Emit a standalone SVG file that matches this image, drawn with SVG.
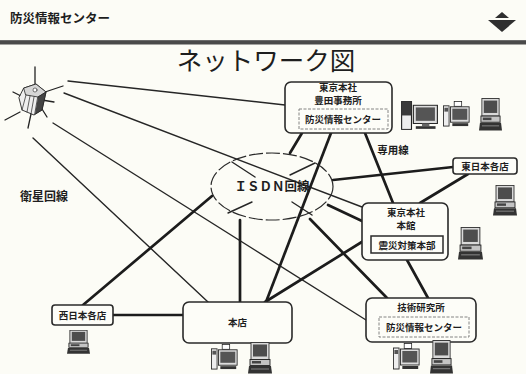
<svg xmlns="http://www.w3.org/2000/svg" width="526" height="374" viewBox="0 0 526 374">
  <defs>
    <style>
      .jp { font-family: "Noto Sans CJK JP", "Noto Sans CJK SC", sans-serif; fill: #1e1e1e; }
      .lbl { font-size: 9.5px; font-weight: bold; text-anchor: middle; }
      .box { fill: #fdfdf8; stroke: #2a2a2a; stroke-width: 1.6; }
      .inner-dash { fill: none; stroke: #777; stroke-width: 0.9; stroke-dasharray: 3 1.5; }
      .inner-solid { fill: none; stroke: #2a2a2a; stroke-width: 1.5; }
      .thick { stroke: #1c1c1c; stroke-width: 2.7; stroke-linecap: round; fill: none; }
      .thin { stroke: #262626; stroke-width: 1.4; stroke-linecap: round; fill: none; }
    </style>
    <!-- desktop PC with keyboard -->
    <symbol id="pc" viewBox="0 0 24 32" preserveAspectRatio="none">
      <rect x="3" y="0.5" width="18" height="17" fill="#d9d9d9" stroke="#333" stroke-width="0.9"/>
      <rect x="5" y="2.5" width="14" height="12" fill="#4d4d4d"/>
      <rect x="2" y="17.5" width="20" height="6" fill="#c4c4c4" stroke="#222" stroke-width="0.9"/>
      <rect x="4" y="19" width="9" height="2.5" fill="#444"/>
      <polygon points="1,24 23,24 24,31.5 0,31.5" fill="#333"/>
      <line x1="3" y1="27" x2="21" y2="27" stroke="#999" stroke-width="0.8"/>
    </symbol>
    <!-- tower and monitor -->
    <symbol id="tower" viewBox="0 0 30 28" preserveAspectRatio="none">
      <rect x="0.5" y="0.5" width="8" height="26" fill="#eee" stroke="#222" stroke-width="0.9"/>
      <rect x="0.5" y="0.5" width="8" height="13" fill="#3a3a3a"/>
      <rect x="10" y="4" width="19.5" height="17" fill="#ddd" stroke="#222" stroke-width="0.9"/>
      <rect x="12" y="6" width="15.5" height="12.5" fill="#555"/>
      <rect x="17" y="21" width="6" height="2.5" fill="#666"/>
      <rect x="12" y="23.5" width="16" height="2.5" fill="#333"/>
    </symbol>
    <!-- slim tower with small box and monitor -->
    <symbol id="tower2" viewBox="0 0 30 28" preserveAspectRatio="none">
      <rect x="0.5" y="5" width="6" height="21" fill="#eee" stroke="#222" stroke-width="0.9"/>
      <rect x="1.5" y="7" width="4" height="4" fill="#555"/>
      <rect x="12" y="0.5" width="8" height="5" fill="#fff" stroke="#222" stroke-width="0.8"/>
      <rect x="8" y="6" width="20" height="16" fill="#ddd" stroke="#222" stroke-width="0.9"/>
      <rect x="10" y="8" width="16" height="11.5" fill="#555"/>
      <rect x="10" y="23" width="17" height="3" fill="#333"/>
    </symbol>
  </defs>

  <rect width="526" height="374" fill="#fcfcf6"/>

  <!-- page header -->
  <g id="header">
    <text class="jp" x="10" y="23" font-size="12.5" font-weight="bold">防災情報センター</text>
    <polygon points="502,12 495,18 509,18" fill="#2f2f2f"/>
    <polygon points="488,20 516,20 502,32" fill="#2f2f2f"/>
    <rect x="0" y="40" width="526" height="4.5" fill="#4a4a4a"/>
    <rect x="0" y="40" width="526" height="1" fill="#6a6a6a"/>
  </g>

  <text id="title" class="jp" x="266" y="70" font-size="25.5" text-anchor="middle">ネットワーク図</text>

  <!-- connectors -->
  <g id="connectors">
    <!-- satellite links -->
    <line class="thin" x1="68" y1="81" x2="285" y2="105"/>
    <line class="thin" x1="64" y1="93" x2="362" y2="207"/>
    <line class="thin" x1="53" y1="123" x2="366" y2="320"/>
    <line class="thin" x1="33" y1="138" x2="208" y2="302"/>
    <!-- ISDN network stubs -->
    <line class="thin" x1="232" y1="162" x2="255" y2="177"/>
    <line class="thin" x1="290" y1="175" x2="315" y2="163"/>
    <line class="thin" x1="228" y1="213" x2="252" y2="202"/>
    <line class="thin" x1="292" y1="202" x2="312" y2="215"/>
    <!-- leased and ISDN lines -->
    <line class="thick" x1="302" y1="133" x2="290" y2="153"/>
    <line class="thick" x1="331" y1="133" x2="266" y2="302"/>
    <line class="thick" x1="365" y1="133" x2="393" y2="203"/>
    <line class="thick" x1="468" y1="174" x2="420" y2="203"/>
    <line class="thick" x1="333" y1="180" x2="453" y2="167"/>
    <line class="thick" x1="328" y1="205" x2="362" y2="221"/>
    <line class="thick" x1="310" y1="219" x2="387" y2="298"/>
    <line class="thick" x1="240" y1="220" x2="240" y2="302"/>
    <line class="thick" x1="212" y1="196" x2="83" y2="305"/>
    <line class="thick" x1="113" y1="315" x2="183" y2="315"/>
    <line class="thick" x1="365" y1="240" x2="265" y2="302"/>
    <line class="thick" x1="407" y1="260" x2="428" y2="298"/>
  </g>

  <!-- satellite -->
  <g id="satellite" stroke="#222" stroke-linecap="round">
    <line x1="35" y1="67" x2="35" y2="84" stroke-width="1.3"/>
    <line x1="13" y1="92" x2="25" y2="98" stroke-width="1.3"/>
    <line x1="5" y1="120" x2="20" y2="112" stroke-width="1.3"/>
    <line x1="28" y1="128" x2="31" y2="114" stroke-width="1.3"/>
    <line x1="45" y1="92" x2="63" y2="86" stroke-width="1.3"/>
    <line x1="42" y1="100" x2="54" y2="102" stroke-width="1.3"/>
    <line x1="42" y1="109" x2="47" y2="117" stroke-width="1.3"/>
    <polygon points="24,88 36,84 46,92 42,110 34,115 22,110 19,98" fill="#eee" stroke-width="0.9"/>
    <polygon points="24,88 36,84 46,92 38,97 26,95" fill="#d6d6d6" stroke-width="0.8"/>
    <line x1="26" y1="95" x2="22" y2="110" stroke-width="0.7"/>
    <line x1="30" y1="96" x2="27" y2="112" stroke-width="0.7"/>
    <line x1="34" y1="97" x2="31" y2="114" stroke-width="0.7"/>
    <polygon points="38,97 46,92 42,110 35,114" fill="#444" stroke-width="0.7"/>
    <circle cx="35" cy="90" r="2" fill="#fff" stroke-width="0.6"/>
  </g>

  <!-- free labels -->
  <text id="label-senyo" class="jp" x="393" y="154" font-size="10.5" font-weight="bold" text-anchor="middle">専用線</text>
  <text id="label-eisei" class="jp" x="44" y="201" font-size="12" font-weight="bold" text-anchor="middle">衛星回線</text>

  <!-- ISDN network -->
  <g id="isdn">
    <ellipse cx="272" cy="186.5" rx="61" ry="33.5" fill="none" stroke="#2a2a2a" stroke-width="1.2" stroke-dasharray="14 3"/>
    <text class="jp" x="272" y="191" font-size="12.5" font-weight="bold" text-anchor="middle">ＩＳＤＮ回線</text>
  </g>

  <!-- Tokyo head office, Toyoda -->
  <g id="toyoda">
    <rect class="box" x="285" y="82" width="107" height="51" rx="6"/>
    <text class="jp lbl" x="338" y="90.5" font-size="8">東京本社</text>
    <text class="jp lbl" x="338" y="104">豊田事務所</text>
    <rect class="inner-dash" x="299" y="109" width="89" height="20"/>
    <text class="jp lbl" x="343" y="122.5">防災情報センター</text>
  </g>
  <g id="toyoda-pcs">
    <use href="#tower" x="401" y="101" width="37" height="30"/>
    <use href="#tower2" x="443" y="101" width="28" height="27"/>
    <use href="#pc" x="479" y="98" width="23" height="33"/>
  </g>

  <!-- East Japan branches -->
  <g id="higashi">
    <rect class="box" x="453" y="158" width="64" height="16" rx="3"/>
    <text class="jp lbl" x="485" y="169.5" font-size="9">東日本各店</text>
    <use href="#pc" x="493" y="185" width="24" height="31"/>
  </g>

  <!-- Tokyo head office, main building -->
  <g id="honkan">
    <rect class="box" x="362" y="203" width="86" height="57" rx="6"/>
    <text class="jp lbl" x="406" y="216">東京本社</text>
    <text class="jp lbl" x="406" y="229">本館</text>
    <rect class="inner-solid" x="371" y="236" width="72" height="17"/>
    <text class="jp lbl" x="407" y="248.5" font-size="10">震災対策本部</text>
    <use href="#pc" x="458" y="227" width="25" height="33"/>
  </g>

  <!-- Technical research lab -->
  <g id="gijutsu">
    <rect class="box" x="366" y="298" width="110" height="44" rx="6"/>
    <text class="jp lbl" x="421" y="311">技術研究所</text>
    <rect class="inner-dash" x="379" y="317" width="90" height="20"/>
    <text class="jp lbl" x="424" y="330.5">防災情報センター</text>
    <use href="#tower2" x="393" y="343" width="28" height="28"/>
    <use href="#pc" x="430" y="340" width="23" height="34"/>
  </g>

  <!-- Head office -->
  <g id="honten">
    <rect class="box" x="183" y="302" width="109" height="41" rx="6"/>
    <text class="jp lbl" x="237.5" y="326" font-size="10">本店</text>
    <use href="#tower2" x="211" y="344" width="28" height="27"/>
    <use href="#pc" x="248" y="342" width="24" height="32"/>
  </g>

  <!-- West Japan branches -->
  <g id="nishi">
    <rect class="box" x="52" y="305" width="61" height="20" rx="3"/>
    <text class="jp lbl" x="82.5" y="318.5" font-size="9">西日本各店</text>
    <use href="#pc" x="67" y="330" width="23" height="24"/>
  </g>
</svg>
